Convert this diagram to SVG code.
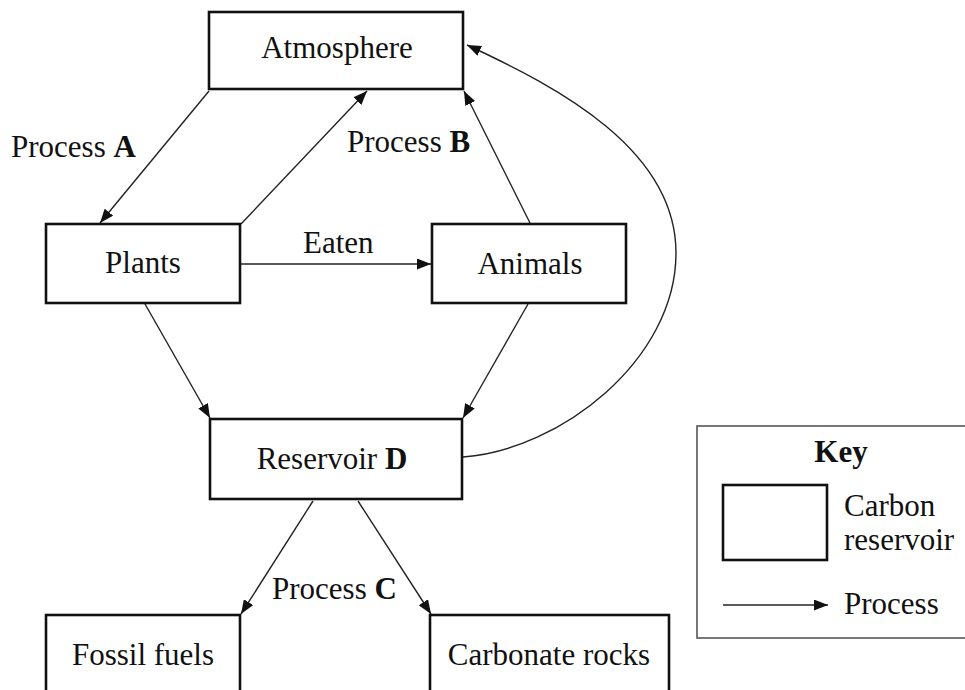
<svg xmlns="http://www.w3.org/2000/svg" width="965" height="690" viewBox="0 0 965 690">
<style>
.box{fill:#fff;stroke:#111;stroke-width:2.6}
.lbl{font-family:"Liberation Serif","Times New Roman",serif;font-size:31px;fill:#111}
.mid{text-anchor:middle}
.b{font-weight:bold}
.con{fill:none;stroke:#222;stroke-width:1.4;marker-end:url(#ah)}
</style>
<defs>
<marker id="ah" markerUnits="userSpaceOnUse" markerWidth="15" markerHeight="11" refX="14" refY="5.5" orient="auto">
<path d="M0,0 L14,5.5 L0,11 z" fill="#111"/>
</marker>
</defs>
<rect width="965" height="690" fill="#fff"/>
<g id="connectors">
<line class="con" x1="209" y1="91" x2="100" y2="223"/>
<line class="con" x1="241" y1="224" x2="367" y2="91"/>
<line class="con" x1="530" y1="223" x2="464" y2="91"/>
<line class="con" x1="240" y1="264" x2="431" y2="264"/>
<line class="con" x1="145" y1="304" x2="210" y2="418"/>
<line class="con" x1="528" y1="304" x2="463" y2="418"/>
<path class="con" d="M463,457 C560,450 676,360 676,253 C676,150 560,88 467,45"/>
<line class="con" x1="313" y1="501" x2="241" y2="614"/>
<line class="con" x1="358" y1="501" x2="431" y2="614"/>
</g>
<g id="atmosphere">
<rect class="box" x="209" y="12" width="254" height="77"/>
<text class="lbl mid" x="337" y="58">Atmosphere</text>
</g>
<g id="plants">
<rect class="box" x="46" y="224" width="194" height="79"/>
<text class="lbl mid" x="143" y="273">Plants</text>
</g>
<g id="animals">
<rect class="box" x="432" y="224" width="194" height="79"/>
<text class="lbl mid" x="530" y="274">Animals</text>
</g>
<g id="reservoir-d">
<rect class="box" x="210" y="419" width="252" height="80"/>
<text class="lbl mid" x="332" y="469">Reservoir <tspan class="b">D</tspan></text>
</g>
<g id="fossil-fuels">
<rect class="box" x="46" y="615" width="194" height="100"/>
<text class="lbl mid" x="143" y="665">Fossil fuels</text>
</g>
<g id="carbonate-rocks">
<rect class="box" x="430" y="615" width="239" height="100"/>
<text class="lbl mid" x="549" y="665">Carbonate rocks</text>
</g>
<g id="labels">
<text class="lbl" x="11" y="157">Process <tspan class="b">A</tspan></text>
<text class="lbl" x="347" y="152">Process <tspan class="b">B</tspan></text>
<text class="lbl" x="303" y="253">Eaten</text>
<text class="lbl" x="272" y="599">Process <tspan class="b">C</tspan></text>
</g>
<g id="key">
<rect x="697" y="426" width="290" height="212" fill="#fff" stroke="#555" stroke-width="1.6"/>
<text class="lbl mid b" x="841" y="462">Key</text>
<rect class="box" x="723" y="485" width="104" height="75"/>
<text class="lbl" x="844" y="516">Carbon</text>
<text class="lbl" x="844" y="550">reservoir</text>
<line class="con" x1="723" y1="605" x2="828" y2="605"/>
<text class="lbl" x="844" y="614">Process</text>
</g>
</svg>
